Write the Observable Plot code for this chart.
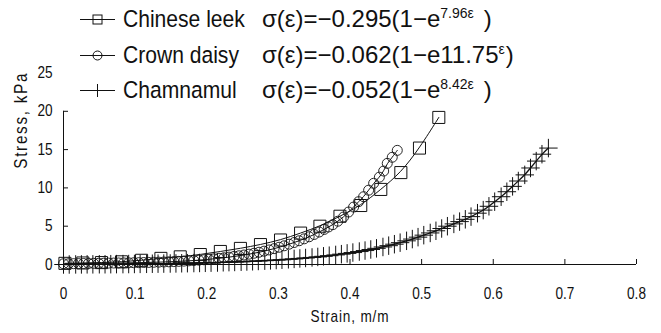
<!DOCTYPE html>
<html><head><meta charset="utf-8">
<script src="https://cdn.jsdelivr.net/npm/d3@7"></script>
<script src="https://cdn.jsdelivr.net/npm/@observablehq/plot@0.6"></script>
<style>
body{margin:0;background:#fff;}
#wrap{position:relative;width:661px;height:333px;overflow:hidden;}
.lg{position:absolute;white-space:nowrap;color:#111;line-height:30px;height:30px;}
.lab{font-family:"Liberation Sans",Arial,sans-serif;font-size:24.5px;transform:scaleX(0.86);transform-origin:0 50%;}
.eq{font-family:"Liberation Sans",Arial,sans-serif;font-size:24px;}
.eq sup{font-size:14px;vertical-align:0;position:relative;top:-9px;}
.sym{position:absolute;}
</style></head><body><div id="wrap"></div>
<script>
// ---- data ----
const xTicks = [0, 0.1, 0.2, 0.3, 0.4, 0.5, 0.6, 0.7, 0.8];
const yTicks = [0, 5, 10, 15, 20, 25];
const yTickMarks = [0, 5, 10, 15, 20];
const xTitle = "Strain, m/m";
const yTitle = "Stress, kPa";
const seriesNames = ["Chinese leek", "Crown daisy", "Chamnamul"];
const equations = [
  ["σ(ε)=−0.295(1−e", "7.96ε", " )"],
  ["σ(ε)=−0.062(1−e11.75", "ε", ")"],
  ["σ(ε)=−0.052(1−e", "8.42ε", " )"]
];

const leekStrain = [0.002,0.027,0.053,0.081,0.109,0.136,0.163,0.191,0.219,0.247,0.275,0.303,0.331,0.358,0.386,0.415,0.443,0.471,0.497,0.524];
const leekStress = [0.15,0.2,0.25,0.35,0.55,0.8,1.0,1.3,1.7,2.1,2.6,3.2,4.1,5.0,6.3,7.7,9.8,12.0,15.2,19.2];

const daisyStrain = [0.000,0.007,0.014,0.021,0.028,0.035,0.042,0.049,0.056,0.063,0.070,0.077,0.084,0.091,0.098,0.105,0.112,0.119,0.126,0.133,0.140,0.147,0.154,0.161,0.168,0.175,0.182,0.189,0.196,0.203,0.210,0.217,0.224,0.231,0.238,0.245,0.252,0.259,0.266,0.273,0.280,0.287,0.294,0.301,0.308,0.315,0.322,0.329,0.336,0.343,0.350,0.357,0.364,0.370,0.376,0.383,0.391,0.398,0.405,0.412,0.419,0.426,0.433,0.441,0.447,0.452,0.459,0.466];
const daisyStress = [0.10,0.10,0.11,0.12,0.13,0.14,0.15,0.16,0.17,0.18,0.19,0.20,0.21,0.22,0.23,0.24,0.26,0.27,0.29,0.31,0.33,0.35,0.38,0.41,0.44,0.48,0.52,0.57,0.62,0.68,0.74,0.81,0.88,0.96,1.05,1.14,1.24,1.35,1.47,1.60,1.74,1.90,2.07,2.25,2.44,2.65,2.87,3.10,3.35,3.62,3.92,4.24,4.58,4.90,5.20,5.65,6.20,6.85,7.50,8.20,8.85,9.70,10.6,11.4,12.2,13.2,14.0,14.9];

const namulStrain = [0.000,0.008,0.017,0.025,0.033,0.041,0.050,0.058,0.066,0.074,0.083,0.091,0.099,0.107,0.116,0.124,0.132,0.140,0.149,0.157,0.165,0.173,0.182,0.190,0.198,0.206,0.215,0.223,0.231,0.239,0.248,0.256,0.264,0.272,0.281,0.289,0.297,0.305,0.314,0.322,0.330,0.338,0.347,0.355,0.363,0.371,0.380,0.388,0.396,0.404,0.413,0.421,0.429,0.437,0.446,0.454,0.462,0.470,0.479,0.487,0.495,0.503,0.512,0.520,0.528,0.536,0.545,0.553,0.561,0.569,0.578,0.586,0.594,0.602,0.611,0.619,0.627,0.635,0.644,0.652,0.660,0.668,0.677];
const namulStress = [0.00,0.00,0.01,0.01,0.02,0.02,0.03,0.03,0.04,0.05,0.05,0.06,0.07,0.08,0.09,0.10,0.11,0.12,0.13,0.14,0.16,0.17,0.19,0.20,0.22,0.24,0.26,0.29,0.31,0.33,0.36,0.39,0.42,0.46,0.50,0.54,0.58,0.62,0.68,0.73,0.79,0.85,0.92,0.99,1.07,1.15,1.25,1.35,1.45,1.56,1.69,1.82,1.96,2.11,2.29,2.46,2.65,2.85,3.09,3.32,3.57,3.83,4.12,4.40,4.70,5.00,5.30,5.60,5.90,6.25,6.70,7.10,7.60,8.20,8.85,9.50,10.2,10.9,11.7,12.6,13.5,14.4,15.2];

// ---- build ----
const rows = (xs, ys) => xs.map((x, i) => ({x, y: ys[i]}));
const leek = rows(leekStrain, leekStress);
const daisy = rows(daisyStrain, daisyStress);
const namul = rows(namulStrain, namulStress);

const ink = "#111";
const font = '"Liberation Sans",Arial,sans-serif';

const chart = Plot.plot({
  width: 661, height: 333,
  marginTop: 72.5, marginBottom: 69, marginLeft: 63, marginRight: 25,
  x: {domain: [xTicks[0], xTicks[xTicks.length - 1]], label: null},
  y: {domain: [yTicks[0], yTicks[yTicks.length - 1]], label: null},
  style: {fontFamily: font, background: "white", color: ink},
  marks: [
    Plot.ruleY([0], {x1: xTicks[0], x2: xTicks[xTicks.length - 1], stroke: ink}),
    Plot.ruleX([0], {y1: yTickMarks[0], y2: yTickMarks[yTickMarks.length - 1], stroke: ink}),
    Plot.axisX({ticks: xTicks, tickSize: -5, tickFormat: () => "", label: null, stroke: ink}),
    Plot.axisX({ticks: xTicks, tickSize: 0, tickPadding: 23, fontSize: 16, label: null, tickFormat: d => String(d), fill: ink}),
    Plot.axisY({ticks: yTickMarks, tickSize: -5, tickFormat: () => "", label: null, stroke: ink}),
    Plot.axisY({ticks: yTicks, tickSize: 0, tickPadding: 11, fontSize: 16, label: null, fill: ink}),
    Plot.text([xTitle], {frameAnchor: "bottom", dy: 57, fontSize: 16, text: d => d, fill: ink}),
    Plot.text([yTitle], {frameAnchor: "left", rotate: -90, dx: -42, fontSize: 18, text: d => d, fill: ink}),
    Plot.line(leek, {x: "x", y: "y", curve: "basis", stroke: ink, strokeWidth: 1}),
    Plot.line(daisy, {x: "x", y: "y", curve: "basis", stroke: ink, strokeWidth: 1}),
    Plot.line(namul, {x: "x", y: "y", curve: "basis", stroke: ink, strokeWidth: 1.3}),
    Plot.dot(leek, {x: "x", y: "y", symbol: "square", r: 6.8, fill: "none", stroke: ink, strokeWidth: 1}),
    Plot.dot(daisy, {x: "x", y: "y", symbol: "circle", r: 5, fill: "none", stroke: ink, strokeWidth: 0.9}),
    Plot.dot(namul, {x: "x", y: "y", symbol: "plus", r: 6, fill: "none", stroke: ink, strokeWidth: 1})
  ]
});
const wrap = document.getElementById("wrap");
wrap.appendChild(chart);

// condense chart text horizontally (narrow glyphs as in the reference)
d3.select(chart).selectAll("text").each(function() {
  if (!this.textContent) return;
  const t = d3.select(this);
  const tr = t.attr("transform") || "";
  const xa = t.attr("x");
  let pre = "";
  if (xa != null && isFinite(+xa) && +xa !== 0) { pre = ` translate(${+xa},0)`; t.attr("x", null); }
  t.attr("transform", `${tr}${pre} scale(0.85,1)`);
  if (this.textContent === yTitle) t.style("letter-spacing", "2px");
  if (this.textContent === xTitle) t.style("letter-spacing", "1px");
});

// ---- legend (overlay) ----
const rowY = [19, 55, 90];
const syms = ["square", "circle", "plus"];
seriesNames.forEach((name, i) => {
  const cy = rowY[i];
  const s = d3.select(wrap).append("svg").attr("class", "sym")
    .attr("width", 36).attr("height", 24)
    .style("left", "80px").style("top", (cy - 12) + "px");
  s.append("line").attr("x1", 0).attr("x2", 35).attr("y1", 12.5).attr("y2", 12.5).attr("stroke", ink);
  if (syms[i] === "square") s.append("rect").attr("x", 13).attr("y", 8).attr("width", 9).attr("height", 9).attr("fill", "none").attr("stroke", ink);
  if (syms[i] === "circle") s.append("circle").attr("cx", 17.5).attr("cy", 12.5).attr("r", 4.5).attr("fill", "none").attr("stroke", ink);
  if (syms[i] === "plus") s.append("line").attr("x1", 17.5).attr("x2", 17.5).attr("y1", 6).attr("y2", 19).attr("stroke", ink);
  d3.select(wrap).append("div").attr("class", "lg lab").style("left", "123px").style("top", (cy - 15) + "px").text(name);
  const eq = d3.select(wrap).append("div").attr("class", "lg eq").style("left", "262px").style("top", (cy - 15) + "px");
  eq.append("span").text(equations[i][0]);
  eq.append("sup").text(equations[i][1]);
  eq.append("span").style("margin-left", equations[i][2].startsWith(" ") ? "10px" : "1px").text(equations[i][2].trim());
});
</script>
</body></html>
